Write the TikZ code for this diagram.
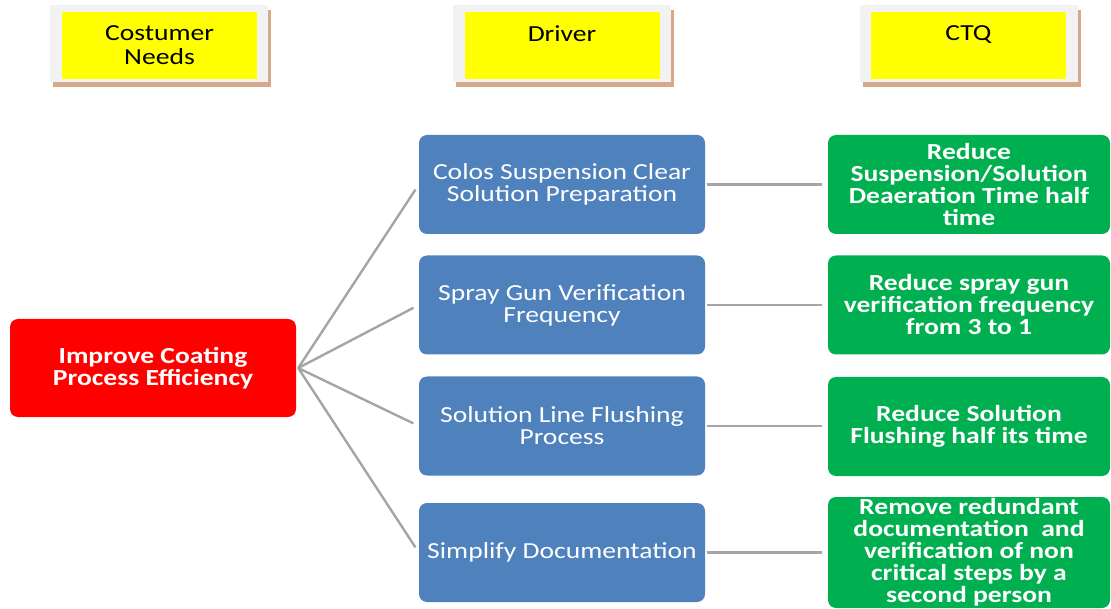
\documentclass[tikz,border=0pt]{standalone}
\usepackage{fontspec}
\setmainfont{Carlito}[FakeStretch=1.2]
\usetikzlibrary{positioning, shadows}

\definecolor{hdrgray}{RGB}{242,242,242}
\definecolor{hdrshadow}{RGB}{214,168,140}
\definecolor{hdryellow}{RGB}{255,255,0}
\definecolor{goalred}{RGB}{255,0,0}
\definecolor{drvblue}{RGB}{79,129,189}
\definecolor{ctqgreen}{RGB}{0,176,80}
\definecolor{linkgray}{RGB}{165,165,165}

\begin{document}
\begin{tikzpicture}[x=1pt, y=-1pt,
  frame/.style={rectangle, fill=hdrgray, minimum width=218pt, minimum height=77pt,
    drop shadow={shadow xshift=3pt, shadow yshift=-5pt, fill=hdrshadow, opacity=1}},
  yellowbox/.style={rectangle, fill=hdryellow, minimum width=195pt, minimum height=67pt},
  hdrtext/.style={anchor=north, inner sep=0pt, align=center, text=black,
    font=\fontsize{23}{24.5}\selectfont},
  goalbox/.style={rectangle, rounded corners=8pt, fill=goalred, text=white, align=center,
    minimum width=286pt, minimum height=98pt, font=\bfseries\fontsize{23}{22}\selectfont},
  drvbox/.style={rectangle, rounded corners=8pt, fill=drvblue, text=white, align=center,
    minimum width=286pt, minimum height=99pt, font=\fontsize{23}{22}\selectfont},
  ctqbox/.style={rectangle, rounded corners=8pt, fill=ctqgreen, text=white, align=center,
    minimum width=282pt, minimum height=99pt, inner sep=0pt, font=\bfseries\fontsize{23}{22}\selectfont},
  link/.style={draw=linkgray, line width=2.4pt}]
  \useasboundingbox (0,0) rectangle (1111,609);

  % Column headers
  \node[frame] (needsF) at (159,43.5) {};
  \node[yellowbox] (needsY) at (159.5,45.5) {};
  \node[hdrtext] (needs) at (159.5,25) {Costumer\\Needs};
  \node[frame] (driverF) at (561.5,43.5) {};
  \node[yellowbox] (driverY) at (562,45.5) {};
  \node[hdrtext] (driver) at (562,25) {Driver};
  \node[frame] (ctqF) at (968.5,43.5) {};
  \node[yellowbox] (ctqY) at (968.5,45.5) {};
  \node[hdrtext] (ctq) at (968.5,25) {CTQ};

  % Need
  \node[goalbox] (goal) at (153,368) {Improve Coating\\Process Efficiency};

  % Drivers
  \node[drvbox] (drv1) at (562,184.5) {Colos Suspension Clear\\Solution Preparation};
  \node[drvbox] (drv2) at (562,305) {Spray Gun Verification\\Frequency};
  \node[drvbox] (drv3) at (562,426) {Solution Line Flushing\\Process};
  \node[drvbox] (drv4) at (562,552.5) {Simplify Documentation};

  % CTQs
  \node[ctqbox] (ctq1) at (969,184.5) {Reduce\\Suspension/Solution\\Deaeration Time half\\time};
  \node[ctqbox] (ctq2) at (969,305) {Reduce spray gun\\verification frequency\\from 3 to 1};
  \node[ctqbox] (ctq3) at (969,426.5) {Reduce Solution\\Flushing half its time};
  \node[ctqbox, minimum height=111pt] (ctq4) at (969,552.5)
    {Remove redundant\\documentation~ and\\verification of non\\critical steps by a\\second person};

  % Connectors
  \foreach \i in {1,...,4} {
    \draw[link, shorten >=6pt] ([xshift=2pt]goal.east) -- (drv\i.west);
    \draw[link, shorten <=2pt, shorten >=6pt] (drv\i.east) -- (drv\i.east -| ctq\i.west);
  }
\end{tikzpicture}
\end{document}
